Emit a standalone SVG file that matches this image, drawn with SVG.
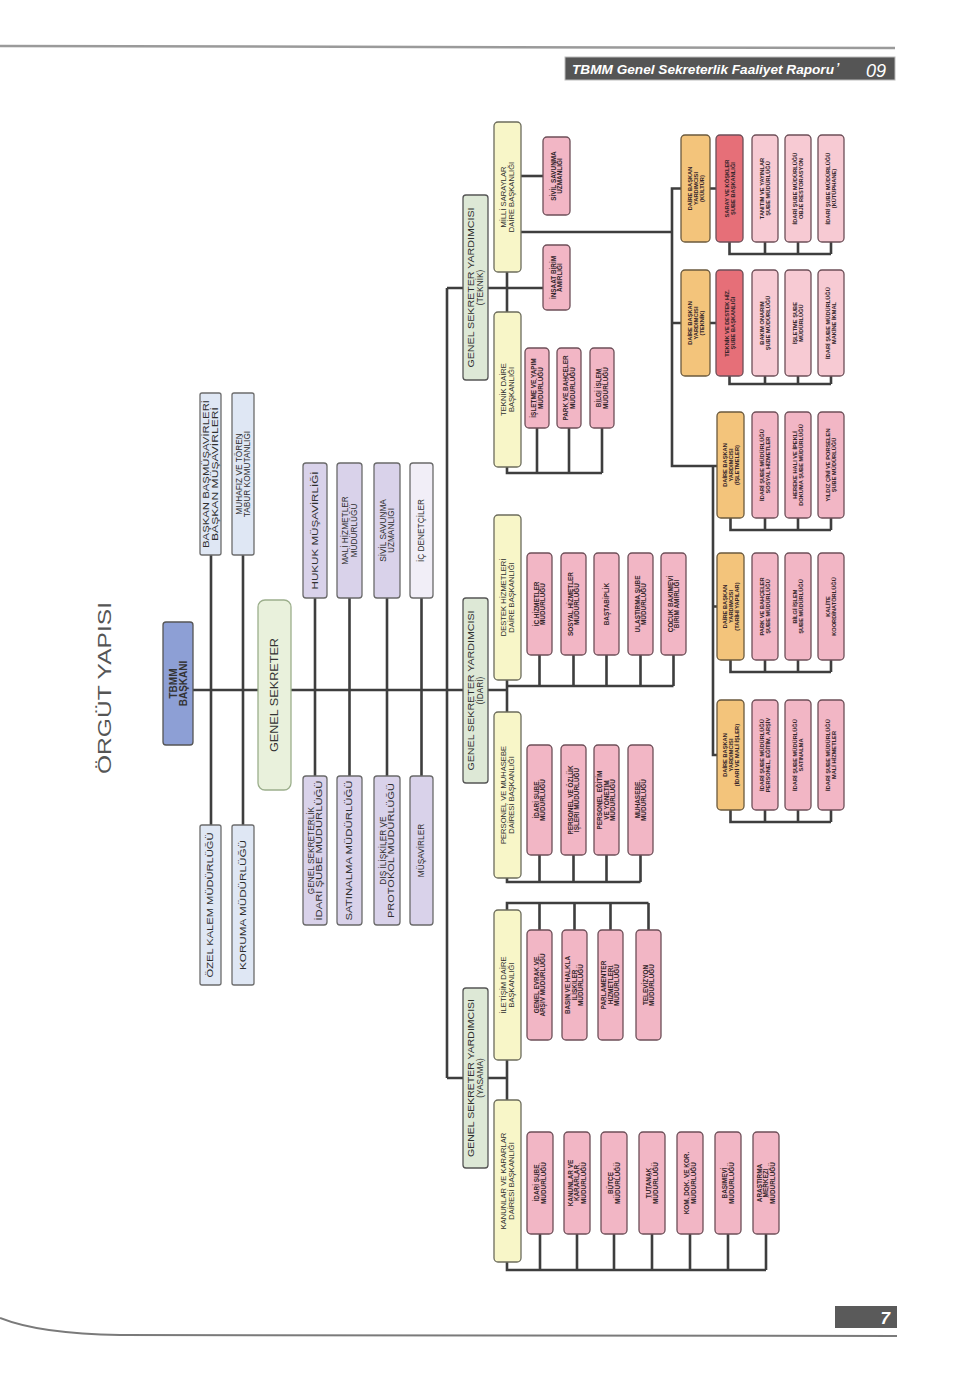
<svg xmlns="http://www.w3.org/2000/svg" width="960" height="1383" viewBox="0 0 960 1383">
<style>
.ln{fill:none;stroke:#3e3e3e;stroke-width:2.6}
.tx{font-family:"Liberation Sans",Arial,sans-serif;fill:#333;text-anchor:middle}
.f8{font-size:8.3px;fill:#2e2e2e}
.f75{font-size:7.6px;fill:#2e2e2e}
.ps{font-size:6.4px;font-weight:bold;fill:#33252a}
.ms{font-size:5.7px;font-weight:bold;fill:#33252a}
.bl{fill:#dfe7f4;stroke:#6c6c6c;stroke-width:1.3}
.tb{fill:#8d9fd5;stroke:#555;stroke-width:1.3}
.gs{fill:#e9f1dc;stroke:#9caf8c;stroke-width:1.3}
.lv{fill:#d9d2ea;stroke:#6a6a6a;stroke-width:1.3}
.lw{fill:#f1eef7;stroke:#6a6a6a;stroke-width:1.3}
.gy{fill:#dde8d6;stroke:#555;stroke-width:1.3}
.yl{fill:#f8f6c8;stroke:#6c6c5c;stroke-width:1.3}
.pk{fill:#f2b6c5;stroke:#6d4f58;stroke-width:1.3}
.pl{fill:#f7cad3;stroke:#6d4f58;stroke-width:1.3}
.rd{fill:#e66f78;stroke:#6d4f58;stroke-width:1.3}
.or{fill:#f3c47b;stroke:#6b5a3e;stroke-width:1.3}
</style>
<rect width="960" height="1383" fill="#ffffff"/>
<!-- page decoration -->
<path d="M0,46 L895,48" stroke="#9a9a9a" stroke-width="2.5" fill="none"/>
<rect x="565" y="57" width="330" height="23" fill="#555555" stroke="#bbbbbb" stroke-width="1"/>
<text x="572" y="74" font-family="'Liberation Sans',Arial,sans-serif" font-size="12" font-style="italic" font-weight="bold" fill="#ffffff" textLength="262" lengthAdjust="spacingAndGlyphs">TBMM Genel Sekreterlik Faaliyet Raporu</text>
<text x="836" y="72" font-family="'Liberation Sans',Arial,sans-serif" font-size="12" font-style="italic" font-weight="bold" fill="#ffffff">’</text>
<text x="866" y="77" font-family="'Liberation Sans',Arial,sans-serif" font-size="18" font-style="italic" fill="#ffffff">09</text>
<rect x="835" y="1306" width="62" height="22" fill="#5a5a5a"/>
<text x="890" y="1324" text-anchor="end" font-family="'Liberation Sans',Arial,sans-serif" font-size="17" font-style="italic" font-weight="bold" fill="#ffffff">7</text>
<path d="M0,1318 Q40,1334 120,1335 L897,1336" stroke="#7a7a7a" stroke-width="2" fill="none"/>
<text x="110.6" y="688" transform="rotate(-90 110.6 688)" font-family="'Liberation Sans',Arial,sans-serif" font-size="19" fill="#555" text-anchor="middle" textLength="172" lengthAdjust="spacingAndGlyphs">ÖRGÜT YAPISI</text>

<g id="connectors">
<path class="ln" d="M193,690 H447"/>
<path class="ln" d="M211,555 V825"/>
<path class="ln" d="M243,555 V825"/>
<path class="ln" d="M315,598 V776 M349.5,598 V776 M387,598 V776 M421.5,598 V776"/>
<path class="ln" d="M447,288 V1078 M447,288 H463 M447,690 H463 M447,1078 H463"/>
<path class="ln" d="M488,288 H543 M507,272 V312"/>
<path class="ln" d="M521,176 H543"/>
<path class="ln" d="M507,467 V473 H602 M537,428 V473 M569,428 V473 M602,428 V473"/>
<path class="ln" d="M521,232 H672"/>
<path class="ln" d="M681,188.5 H672 V466 H717 M672,323 H681 M713,466 V755 H717 M713,606.5 H717"/>
<path class="ln" d="M710,188.5 H716 M729.5,242 V254 H831 M765,242 V254 M798,242 V254 M831,242 V254"/>
<path class="ln" d="M710,323 H716 M729.5,376 V384 H831 M765,376 V384 M798,376 V384 M831,376 V384"/>
<path class="ln" d="M730.5,518 V530 H831 M765,518 V530 M798,518 V530 M831,518 V530"/>
<path class="ln" d="M730.5,660 V672 H831 M765,660 V672 M798,660 V672 M831,660 V672"/>
<path class="ln" d="M730.5,810 V822 H831 M765,810 V822 M798,810 V822 M831,810 V822"/>
<path class="ln" d="M488,690 H507 M507,680 V712"/>
<path class="ln" d="M507,686 H673.5 M539.5,655 V686 M573.5,655 V686 M606.5,655 V686 M640.5,655 V686 M673.5,655 V686"/>
<path class="ln" d="M507,878 V882 H640.5 M539.5,855 V882 M573.5,855 V882 M606.5,855 V882 M640.5,855 V882"/>
<path class="ln" d="M488,1078 H507 M507,1060 V1100"/>
<path class="ln" d="M507,910 V903 H648.5 M539.5,903 V930 M574.5,903 V930 M610.5,903 V930 M648.5,903 V930"/>
<path class="ln" d="M507,1262 V1270 H766 M540,1234 V1270 M577,1234 V1270 M614,1234 V1270 M652,1234 V1270 M690,1234 V1270 M728,1234 V1270 M766,1234 V1270"/>
</g>

<g id="tbmm-baskani"><rect class="tb" x="163" y="622" width="30" height="123" rx="3"/>
<text class="tx" font-size="10" font-weight="bold" fill="#2a2a3a" x="176.5" y="683.5" transform="rotate(-90 176.5 683.5)">TBMM</text>
<text class="tx" font-size="10" font-weight="bold" fill="#2a2a3a" x="186.5" y="683.5" transform="rotate(-90 186.5 683.5)">BAŞKANI</text></g>

<g id="baskan-musavirleri"><rect class="bl" x="200" y="393" width="21" height="162" rx="2"/>
<text class="tx f8" x="209.05" y="474" transform="rotate(-90 209.05 474)" textLength="148" lengthAdjust="spacingAndGlyphs">BAŞKAN BAŞMÜŞAVİRLERİ</text>
<text class="tx f8" x="217.55" y="474" transform="rotate(-90 217.55 474)" textLength="134" lengthAdjust="spacingAndGlyphs">BAŞKAN MÜŞAVİRLERİ</text></g>

<g id="muhafiz"><rect class="bl" x="232" y="393" width="22" height="162" rx="2"/>
<text class="tx f8" x="241.55" y="474" transform="rotate(-90 241.55 474)">MUHAFIZ VE TÖREN</text>
<text class="tx f8" x="250.05" y="474" transform="rotate(-90 250.05 474)">TABUR KOMUTANLIĞI</text></g>

<g id="ozel-kalem"><rect class="bl" x="200" y="825" width="21" height="160" rx="2"/>
<text class="tx f8" x="213.4" y="905" transform="rotate(-90 213.4 905)" textLength="145" lengthAdjust="spacingAndGlyphs">ÖZEL KALEM MÜDÜRLÜĞÜ</text></g>

<g id="koruma"><rect class="bl" x="232" y="825" width="22" height="160" rx="2"/>
<text class="tx f8" x="245.9" y="905" transform="rotate(-90 245.9 905)" textLength="130" lengthAdjust="spacingAndGlyphs">KORUMA MÜDÜRLÜĞÜ</text></g>

<g id="genel-sekreter"><rect class="gs" x="258" y="600" width="33" height="190" rx="7"/>
<text class="tx" font-size="10.5" fill="#2e2e2e" x="278.2" y="695" transform="rotate(-90 278.2 695)" textLength="114" lengthAdjust="spacingAndGlyphs">GENEL SEKRETER</text></g>

<g id="hukuk"><rect class="lv" x="303" y="463" width="24" height="135" rx="3"/>
<text class="tx f8" x="317.9" y="530.5" transform="rotate(-90 317.9 530.5)" textLength="118" lengthAdjust="spacingAndGlyphs">HUKUK MÜŞAVİRLİĞİ</text></g>
<g id="mali-hizmetler"><rect class="lv" x="337" y="463" width="25" height="135" rx="3"/>
<text class="tx f8" x="348.05" y="530.5" transform="rotate(-90 348.05 530.5)">MALİ HİZMETLER</text>
<text class="tx f8" x="356.55" y="530.5" transform="rotate(-90 356.55 530.5)">MÜDÜRLÜĞÜ</text></g>
<g id="sivil-savunma-gs"><rect class="lv" x="374" y="463" width="26" height="135" rx="3"/>
<text class="tx f8" x="385.55" y="530.5" transform="rotate(-90 385.55 530.5)">SİVİL SAVUNMA</text>
<text class="tx f8" x="394.05" y="530.5" transform="rotate(-90 394.05 530.5)">UZMANLIĞI</text></g>
<g id="ic-denetciler"><rect class="lw" x="410" y="463" width="23" height="135" rx="3"/>
<text class="tx f8" x="424.4" y="530.5" transform="rotate(-90 424.4 530.5)">İÇ DENETÇİLER</text></g>

<g id="gs-idari-sube"><rect class="lv" x="303" y="776" width="24" height="149" rx="3"/>
<text class="tx f8" x="313.55" y="850.5" transform="rotate(-90 313.55 850.5)">GENEL SEKRETERLİK</text>
<text class="tx f8" x="322.05" y="850.5" transform="rotate(-90 322.05 850.5)" textLength="140" lengthAdjust="spacingAndGlyphs">İDARİ ŞUBE MÜDÜRLÜĞÜ</text></g>
<g id="satinalma"><rect class="lv" x="337" y="776" width="25" height="149" rx="3"/>
<text class="tx f8" x="352.4" y="850.5" transform="rotate(-90 352.4 850.5)" textLength="140" lengthAdjust="spacingAndGlyphs">SATINALMA MÜDÜRLÜĞÜ</text></g>
<g id="dis-iliskiler"><rect class="lv" x="374" y="776" width="26" height="149" rx="3"/>
<text class="tx f8" x="385.55" y="850.5" transform="rotate(-90 385.55 850.5)">DIŞ İLİŞKİLER VE</text>
<text class="tx f8" x="394.05" y="850.5" transform="rotate(-90 394.05 850.5)" textLength="135" lengthAdjust="spacingAndGlyphs">PROTOKOL MÜDÜRLÜĞÜ</text></g>
<g id="musavirler"><rect class="lv" x="410" y="776" width="23" height="149" rx="3"/>
<text class="tx f8" x="424.4" y="850.5" transform="rotate(-90 424.4 850.5)">MÜŞAVİRLER</text></g>

<g id="gsy-teknik"><rect class="gy" x="463" y="195" width="25" height="185" rx="3"/>
<text class="tx f8" x="473.8" y="287.5" transform="rotate(-90 473.8 287.5)" textLength="160" lengthAdjust="spacingAndGlyphs">GENEL SEKRETER YARDIMCISI</text>
<text class="tx f8" x="482.8" y="287.5" transform="rotate(-90 482.8 287.5)">(TEKNİK)</text></g>
<g id="gsy-idari"><rect class="gy" x="463" y="598" width="25" height="185" rx="3"/>
<text class="tx f8" x="473.8" y="690.5" transform="rotate(-90 473.8 690.5)" textLength="160" lengthAdjust="spacingAndGlyphs">GENEL SEKRETER YARDIMCISI</text>
<text class="tx f8" x="482.8" y="690.5" transform="rotate(-90 482.8 690.5)">(İDARİ)</text></g>
<g id="gsy-yasama"><rect class="gy" x="463" y="988" width="25" height="180" rx="3"/>
<text class="tx f8" x="473.8" y="1078" transform="rotate(-90 473.8 1078)" textLength="158" lengthAdjust="spacingAndGlyphs">GENEL SEKRETER YARDIMCISI</text>
<text class="tx f8" x="482.8" y="1078" transform="rotate(-90 482.8 1078)">(YASAMA)</text></g>

<g id="milli-saraylar"><rect class="yl" x="494" y="122" width="27" height="150" rx="4"/>
<text class="tx f75" x="505.9" y="197" transform="rotate(-90 505.9 197)">MİLLİ SARAYLAR</text>
<text class="tx f75" x="514.4" y="197" transform="rotate(-90 514.4 197)">DAİRE BAŞKANLIĞI</text></g>
<g id="teknik-daire"><rect class="yl" x="494" y="312" width="27" height="155" rx="4"/>
<text class="tx f75" x="505.9" y="389.5" transform="rotate(-90 505.9 389.5)">TEKNİK DAİRE</text>
<text class="tx f75" x="514.4" y="389.5" transform="rotate(-90 514.4 389.5)">BAŞKANLIĞI</text></g>
<g id="destek-hizmetleri"><rect class="yl" x="494" y="515" width="27" height="165" rx="4"/>
<text class="tx f75" x="505.9" y="597.5" transform="rotate(-90 505.9 597.5)">DESTEK HİZMETLERİ</text>
<text class="tx f75" x="514.4" y="597.5" transform="rotate(-90 514.4 597.5)">DAİRE BAŞKANLIĞI</text></g>
<g id="personel-muhasebe"><rect class="yl" x="494" y="712" width="27" height="166" rx="4"/>
<text class="tx f75" x="505.9" y="795" transform="rotate(-90 505.9 795)">PERSONEL VE MUHASEBE</text>
<text class="tx f75" x="514.4" y="795" transform="rotate(-90 514.4 795)">DAİRESİ BAŞKANLIĞI</text></g>
<g id="iletisim"><rect class="yl" x="494" y="910" width="27" height="150" rx="4"/>
<text class="tx f75" x="505.9" y="985" transform="rotate(-90 505.9 985)">İLETİŞİM DAİRE</text>
<text class="tx f75" x="514.4" y="985" transform="rotate(-90 514.4 985)">BAŞKANLIĞI</text></g>
<g id="kanunlar-kararlar"><rect class="yl" x="494" y="1100" width="27" height="162" rx="4"/>
<text class="tx f75" x="505.9" y="1181" transform="rotate(-90 505.9 1181)">KANUNLAR VE KARARLAR</text>
<text class="tx f75" x="514.4" y="1181" transform="rotate(-90 514.4 1181)">DAİRESİ BAŞKANLIĞI</text></g>

<!-- Teknik / Milli Saraylar direct units -->
<g id="ms-sivil-savunma"><rect class="pk" x="543" y="137" width="27" height="78" rx="4"/>
<text class="tx ps" x="555.5" y="176" transform="rotate(-90 555.5 176)">SİVİL SAVUNMA</text>
<text class="tx ps" x="562" y="176" transform="rotate(-90 562 176)">UZMANLIĞI</text></g>
<g id="insaat-birim"><rect class="pk" x="543" y="245" width="27" height="65" rx="4"/>
<text class="tx ps" x="555.5" y="277.5" transform="rotate(-90 555.5 277.5)">İNŞAAT BİRİM</text>
<text class="tx ps" x="562" y="277.5" transform="rotate(-90 562 277.5)">AMİRLİĞİ</text></g>
<g id="isletme-yapim"><rect class="pk" x="525" y="348" width="24" height="80" rx="4"/>
<text class="tx ps" x="536" y="388" transform="rotate(-90 536 388)">İŞLETME VE YAPIM</text>
<text class="tx ps" x="542.5" y="388" transform="rotate(-90 542.5 388)">MÜDÜRLÜĞÜ</text></g>
<g id="park-bahceler"><rect class="pk" x="557" y="348" width="24" height="80" rx="4"/>
<text class="tx ps" x="568" y="388" transform="rotate(-90 568 388)">PARK VE BAHÇELER</text>
<text class="tx ps" x="574.5" y="388" transform="rotate(-90 574.5 388)">MÜDÜRLÜĞÜ</text></g>
<g id="bilgi-islem"><rect class="pk" x="590" y="348" width="24" height="80" rx="4"/>
<text class="tx ps" x="601" y="388" transform="rotate(-90 601 388)">BİLGİ İŞLEM</text>
<text class="tx ps" x="607.5" y="388" transform="rotate(-90 607.5 388)">MÜDÜRLÜĞÜ</text></g>

<!-- Destek -->
<g id="ic-hizmetler"><rect class="pk" x="527" y="553" width="25" height="102" rx="4"/>
<text class="tx ps" x="538.5" y="604" transform="rotate(-90 538.5 604)">İÇ HİZMETLER</text>
<text class="tx ps" x="545" y="604" transform="rotate(-90 545 604)">MÜDÜRLÜĞÜ</text></g>
<g id="sosyal-hizmetler"><rect class="pk" x="561" y="553" width="25" height="102" rx="4"/>
<text class="tx ps" x="572.5" y="604" transform="rotate(-90 572.5 604)">SOSYAL HİZMETLER</text>
<text class="tx ps" x="579" y="604" transform="rotate(-90 579 604)">MÜDÜRLÜĞÜ</text></g>
<g id="bastabiplik"><rect class="pk" x="594" y="553" width="25" height="102" rx="4"/>
<text class="tx ps" x="608.7" y="604" transform="rotate(-90 608.7 604)">BAŞTABİPLİK</text></g>
<g id="ulastirma"><rect class="pk" x="628" y="553" width="25" height="102" rx="4"/>
<text class="tx ps" x="639.5" y="604" transform="rotate(-90 639.5 604)">ULAŞTIRMA ŞUBE</text>
<text class="tx ps" x="646" y="604" transform="rotate(-90 646 604)">MÜDÜRLÜĞÜ</text></g>
<g id="cocuk-bakimevi"><rect class="pk" x="661" y="553" width="25" height="102" rx="4"/>
<text class="tx ps" x="672.5" y="604" transform="rotate(-90 672.5 604)">ÇOCUK BAKIMEVİ</text>
<text class="tx ps" x="679" y="604" transform="rotate(-90 679 604)">BİRİM AMİRLİĞİ</text></g>

<!-- Personel -->
<g id="pm-idari-sube"><rect class="pk" x="527" y="745" width="25" height="110" rx="4"/>
<text class="tx ps" x="538.5" y="800" transform="rotate(-90 538.5 800)">İDARİ ŞUBE</text>
<text class="tx ps" x="545" y="800" transform="rotate(-90 545 800)">MÜDÜRLÜĞÜ</text></g>
<g id="personel-ozluk"><rect class="pk" x="561" y="745" width="25" height="110" rx="4"/>
<text class="tx ps" x="572.5" y="800" transform="rotate(-90 572.5 800)">PERSONEL VE ÖZLÜK</text>
<text class="tx ps" x="579" y="800" transform="rotate(-90 579 800)">İŞLERİ MÜDÜRLÜĞÜ</text></g>
<g id="personel-egitim"><rect class="pk" x="594" y="745" width="25" height="110" rx="4"/>
<text class="tx ps" x="602.2" y="800" transform="rotate(-90 602.2 800)">PERSONEL EĞİTİM</text>
<text class="tx ps" x="608.7" y="800" transform="rotate(-90 608.7 800)">VE YÖNETİM</text>
<text class="tx ps" x="615.2" y="800" transform="rotate(-90 615.2 800)">MÜDÜRLÜĞÜ</text></g>
<g id="muhasebe"><rect class="pk" x="628" y="745" width="25" height="110" rx="4"/>
<text class="tx ps" x="639.5" y="800" transform="rotate(-90 639.5 800)">MUHASEBE</text>
<text class="tx ps" x="646" y="800" transform="rotate(-90 646 800)">MÜDÜRLÜĞÜ</text></g>

<!-- Iletisim -->
<g id="genel-evrak"><rect class="pk" x="527" y="930" width="25" height="110" rx="4"/>
<text class="tx ps" x="538.5" y="985" transform="rotate(-90 538.5 985)">GENEL EVRAK VE</text>
<text class="tx ps" x="545" y="985" transform="rotate(-90 545 985)">ARŞİV MÜDÜRLÜĞÜ</text></g>
<g id="basin-halkla"><rect class="pk" x="562" y="930" width="25" height="110" rx="4"/>
<text class="tx ps" x="570.2" y="985" transform="rotate(-90 570.2 985)">BASIN VE HALKLA</text>
<text class="tx ps" x="576.7" y="985" transform="rotate(-90 576.7 985)">İLİŞKİLER</text>
<text class="tx ps" x="583.2" y="985" transform="rotate(-90 583.2 985)">MÜDÜRLÜĞÜ</text></g>
<g id="parlamenter"><rect class="pk" x="598" y="930" width="25" height="110" rx="4"/>
<text class="tx ps" x="606.2" y="985" transform="rotate(-90 606.2 985)">PARLAMENTER</text>
<text class="tx ps" x="612.7" y="985" transform="rotate(-90 612.7 985)">HİZMETLERİ</text>
<text class="tx ps" x="619.2" y="985" transform="rotate(-90 619.2 985)">MÜDÜRLÜĞÜ</text></g>
<g id="televizyon"><rect class="pk" x="636" y="930" width="25" height="110" rx="4"/>
<text class="tx ps" x="647.5" y="985" transform="rotate(-90 647.5 985)">TELEVİZYON</text>
<text class="tx ps" x="654" y="985" transform="rotate(-90 654 985)">MÜDÜRLÜĞÜ</text></g>

<!-- Kanunlar -->
<g id="kk-idari-sube"><rect class="pk" x="527" y="1132" width="26" height="102" rx="4"/>
<text class="tx ps" x="539" y="1183" transform="rotate(-90 539 1183)">İDARİ ŞUBE</text>
<text class="tx ps" x="545.5" y="1183" transform="rotate(-90 545.5 1183)">MÜDÜRLÜĞÜ</text></g>
<g id="kanunlar-kararlar-md"><rect class="pk" x="564" y="1132" width="26" height="102" rx="4"/>
<text class="tx ps" x="572.7" y="1183" transform="rotate(-90 572.7 1183)">KANUNLAR VE</text>
<text class="tx ps" x="579.2" y="1183" transform="rotate(-90 579.2 1183)">KARARLAR</text>
<text class="tx ps" x="585.7" y="1183" transform="rotate(-90 585.7 1183)">MÜDÜRLÜĞÜ</text></g>
<g id="butce"><rect class="pk" x="601" y="1132" width="26" height="102" rx="4"/>
<text class="tx ps" x="613" y="1183" transform="rotate(-90 613 1183)">BÜTÇE</text>
<text class="tx ps" x="619.5" y="1183" transform="rotate(-90 619.5 1183)">MÜDÜRLÜĞÜ</text></g>
<g id="tutanak"><rect class="pk" x="639" y="1132" width="26" height="102" rx="4"/>
<text class="tx ps" x="651" y="1183" transform="rotate(-90 651 1183)">TUTANAK</text>
<text class="tx ps" x="657.5" y="1183" transform="rotate(-90 657.5 1183)">MÜDÜRLÜĞÜ</text></g>
<g id="kom-dok"><rect class="pk" x="677" y="1132" width="26" height="102" rx="4"/>
<text class="tx ps" x="689" y="1183" transform="rotate(-90 689 1183)">KOM. DOK. VE KOR.</text>
<text class="tx ps" x="695.5" y="1183" transform="rotate(-90 695.5 1183)">MÜDÜRLÜĞÜ</text></g>
<g id="basimevi"><rect class="pk" x="715" y="1132" width="26" height="102" rx="4"/>
<text class="tx ps" x="727" y="1183" transform="rotate(-90 727 1183)">BASIMEVİ</text>
<text class="tx ps" x="733.5" y="1183" transform="rotate(-90 733.5 1183)">MÜDÜRLÜĞÜ</text></g>
<g id="arastirma"><rect class="pk" x="753" y="1132" width="26" height="102" rx="4"/>
<text class="tx ps" x="761.7" y="1183" transform="rotate(-90 761.7 1183)">ARAŞTIRMA</text>
<text class="tx ps" x="768.2" y="1183" transform="rotate(-90 768.2 1183)">MERKEZİ</text>
<text class="tx ps" x="774.7" y="1183" transform="rotate(-90 774.7 1183)">MÜDÜRLÜĞÜ</text></g>

<!-- Milli Saraylar groups -->
<g id="dby-kultur"><rect class="or" x="681" y="135" width="29" height="107" rx="4"/>
<text class="tx ms" x="691.5" y="188.5" transform="rotate(-90 691.5 188.5)">DAİRE BAŞKAN</text>
<text class="tx ms" x="697.5" y="188.5" transform="rotate(-90 697.5 188.5)">YARDIMCISI</text>
<text class="tx ms" x="703.5" y="188.5" transform="rotate(-90 703.5 188.5)">(KÜLTÜR)</text></g>
<g id="saray-kosk"><rect class="rd" x="716" y="135" width="27" height="107" rx="4"/>
<text class="tx ms" x="728.5" y="188.5" transform="rotate(-90 728.5 188.5)">SARAY VE KÖŞKLER</text>
<text class="tx ms" x="734.5" y="188.5" transform="rotate(-90 734.5 188.5)">ŞUBE BAŞKANLIĞI</text></g>
<g id="tanitim-yayin"><rect class="pl" x="752" y="135" width="26" height="107" rx="4"/>
<text class="tx ms" x="764" y="188.5" transform="rotate(-90 764 188.5)">TANITIM VE YAYINLAR</text>
<text class="tx ms" x="770" y="188.5" transform="rotate(-90 770 188.5)">ŞUBE MÜDÜRLÜĞÜ</text></g>
<g id="obje-restorasyon"><rect class="pl" x="785" y="135" width="26" height="107" rx="4"/>
<text class="tx ms" x="797" y="188.5" transform="rotate(-90 797 188.5)">İDARİ ŞUBE MÜDÜRLÜĞÜ</text>
<text class="tx ms" x="803" y="188.5" transform="rotate(-90 803 188.5)">OBJE RESTORASYON</text></g>
<g id="kutuphane"><rect class="pl" x="818" y="135" width="26" height="107" rx="4"/>
<text class="tx ms" x="830" y="188.5" transform="rotate(-90 830 188.5)">İDARİ ŞUBE MÜDÜRLÜĞÜ</text>
<text class="tx ms" x="836" y="188.5" transform="rotate(-90 836 188.5)">(KÜTÜPHANE)</text></g>

<g id="dby-teknik"><rect class="or" x="681" y="270" width="29" height="106" rx="4"/>
<text class="tx ms" x="691.5" y="323" transform="rotate(-90 691.5 323)">DAİRE BAŞKAN</text>
<text class="tx ms" x="697.5" y="323" transform="rotate(-90 697.5 323)">YARDIMCISI</text>
<text class="tx ms" x="703.5" y="323" transform="rotate(-90 703.5 323)">(TEKNİK)</text></g>
<g id="teknik-destek-sb"><rect class="rd" x="716" y="270" width="27" height="106" rx="4"/>
<text class="tx ms" x="728.5" y="323" transform="rotate(-90 728.5 323)">TEKNİK VE DESTEK HİZ.</text>
<text class="tx ms" x="734.5" y="323" transform="rotate(-90 734.5 323)">ŞUBE BAŞKANLIĞI</text></g>
<g id="bakim-onarim"><rect class="pl" x="752" y="270" width="26" height="106" rx="4"/>
<text class="tx ms" x="764" y="323" transform="rotate(-90 764 323)">BAKIM ONARIM</text>
<text class="tx ms" x="770" y="323" transform="rotate(-90 770 323)">ŞUBE MÜDÜRLÜĞÜ</text></g>
<g id="isletme-sube"><rect class="pl" x="785" y="270" width="26" height="106" rx="4"/>
<text class="tx ms" x="797" y="323" transform="rotate(-90 797 323)">İŞLETME ŞUBE</text>
<text class="tx ms" x="803" y="323" transform="rotate(-90 803 323)">MÜDÜRLÜĞÜ</text></g>
<g id="makine-ikmal"><rect class="pl" x="818" y="270" width="26" height="106" rx="4"/>
<text class="tx ms" x="830" y="323" transform="rotate(-90 830 323)">İDARİ ŞUBE MÜDÜRLÜĞÜ</text>
<text class="tx ms" x="836" y="323" transform="rotate(-90 836 323)">MAKİNE İKMAL</text></g>

<g id="dby-isletmeler"><rect class="or" x="717" y="412" width="27" height="106" rx="4"/>
<text class="tx ms" x="726.5" y="465" transform="rotate(-90 726.5 465)">DAİRE BAŞKAN</text>
<text class="tx ms" x="732.5" y="465" transform="rotate(-90 732.5 465)">YARDIMCISI</text>
<text class="tx ms" x="738.5" y="465" transform="rotate(-90 738.5 465)">(İŞLETMELER)</text></g>
<g id="sosyal-hiz-sube"><rect class="pk" x="752" y="412" width="26" height="106" rx="4"/>
<text class="tx ms" x="764" y="465" transform="rotate(-90 764 465)">İDARİ ŞUBE MÜDÜRLÜĞÜ</text>
<text class="tx ms" x="770" y="465" transform="rotate(-90 770 465)">SOSYAL HİZMETLER</text></g>
<g id="hereke"><rect class="pk" x="785" y="412" width="26" height="106" rx="4"/>
<text class="tx ms" x="797" y="465" transform="rotate(-90 797 465)">HEREKE HALI VE İPEKLİ</text>
<text class="tx ms" x="803" y="465" transform="rotate(-90 803 465)">DOKUMA ŞUBE MÜDÜRLÜĞÜ</text></g>
<g id="yildiz-cini"><rect class="pk" x="818" y="412" width="26" height="106" rx="4"/>
<text class="tx ms" x="830" y="465" transform="rotate(-90 830 465)">YILDIZ ÇİNİ VE PORSELEN</text>
<text class="tx ms" x="836" y="465" transform="rotate(-90 836 465)">ŞUBE MÜDÜRLÜĞÜ</text></g>

<g id="dby-tarihi"><rect class="or" x="717" y="553" width="27" height="107" rx="4"/>
<text class="tx ms" x="726.5" y="606.5" transform="rotate(-90 726.5 606.5)">DAİRE BAŞKAN</text>
<text class="tx ms" x="732.5" y="606.5" transform="rotate(-90 732.5 606.5)">YARDIMCISI</text>
<text class="tx ms" x="738.5" y="606.5" transform="rotate(-90 738.5 606.5)">(TARİHİ YAPILAR)</text></g>
<g id="park-bahce-sube"><rect class="pk" x="752" y="553" width="26" height="107" rx="4"/>
<text class="tx ms" x="764" y="606.5" transform="rotate(-90 764 606.5)">PARK VE BAHÇELER</text>
<text class="tx ms" x="770" y="606.5" transform="rotate(-90 770 606.5)">ŞUBE MÜDÜRLÜĞÜ</text></g>
<g id="bilgi-islem-sube"><rect class="pk" x="785" y="553" width="26" height="107" rx="4"/>
<text class="tx ms" x="797" y="606.5" transform="rotate(-90 797 606.5)">BİLGİ İŞLEM</text>
<text class="tx ms" x="803" y="606.5" transform="rotate(-90 803 606.5)">ŞUBE MÜDÜRLÜĞÜ</text></g>
<g id="kalite"><rect class="pk" x="818" y="553" width="26" height="107" rx="4"/>
<text class="tx ms" x="830" y="606.5" transform="rotate(-90 830 606.5)">KALİTE</text>
<text class="tx ms" x="836" y="606.5" transform="rotate(-90 836 606.5)">KOORDİNATÖRLÜĞÜ</text></g>

<g id="dby-idari-mali"><rect class="or" x="717" y="700" width="27" height="110" rx="4"/>
<text class="tx ms" x="726.5" y="755" transform="rotate(-90 726.5 755)">DAİRE BAŞKAN</text>
<text class="tx ms" x="732.5" y="755" transform="rotate(-90 732.5 755)">YARDIMCISI</text>
<text class="tx ms" x="738.5" y="755" transform="rotate(-90 738.5 755)">(İDARİ VE MALİ İŞLER)</text></g>
<g id="ms-personel"><rect class="pk" x="752" y="700" width="26" height="110" rx="4"/>
<text class="tx ms" x="764" y="755" transform="rotate(-90 764 755)">İDARİ ŞUBE MÜDÜRLÜĞÜ</text>
<text class="tx ms" x="770" y="755" transform="rotate(-90 770 755)">PERSONEL, EĞİTİM, ARŞİV</text></g>
<g id="ms-satinalma"><rect class="pk" x="785" y="700" width="26" height="110" rx="4"/>
<text class="tx ms" x="797" y="755" transform="rotate(-90 797 755)">İDARİ ŞUBE MÜDÜRLÜĞÜ</text>
<text class="tx ms" x="803" y="755" transform="rotate(-90 803 755)">SATINALMA</text></g>
<g id="ms-mali"><rect class="pk" x="818" y="700" width="26" height="110" rx="4"/>
<text class="tx ms" x="830" y="755" transform="rotate(-90 830 755)">İDARİ ŞUBE MÜDÜRLÜĞÜ</text>
<text class="tx ms" x="836" y="755" transform="rotate(-90 836 755)">MALİ HİZMETLER</text></g>
</svg>
